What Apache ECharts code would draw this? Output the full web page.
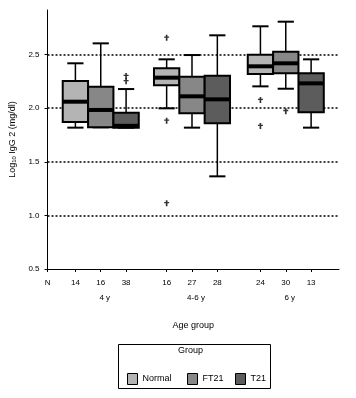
<!DOCTYPE html>
<html>
<head>
<meta charset="utf-8">
<script src="https://cdn.jsdelivr.net/npm/echarts@6/dist/echarts.min.js"></script>
<style>
  html, body { margin: 0; padding: 0; background: #fff; }
  #chart { width: 356px; height: 398px; }
</style>
</head>
<body>
<div id="chart"></div>
<script>
// slots on the x axis (one per box), grouped by age
const boxX = [1.1, 2.1, 3.1, 4.7, 5.7, 6.7, 8.4, 9.4, 10.4];
const counts = [14, 16, 38, 16, 27, 28, 24, 30, 13];
const ageGroups = ['4 y', '4-6 y', '6 y'];
const groupNames = ['Normal', 'FT21', 'T21'];
const yTicks = [0.5, 1.0, 1.5, 2.0, 2.5];
const gridValues = [1.0, 1.5, 2.0, 2.5];

// [min, Q1, median, Q3, max] per age group
const normal = [[1.818, 1.871, 2.06, 2.253, 2.418], [1.998, 2.213, 2.284, 2.371, 2.455], [2.203, 2.318, 2.39, 2.498, 2.763]];
const ft21 = [[1.821, 1.821, 1.983, 2.2, 2.604], [1.818, 1.952, 2.11, 2.293, 2.495], [2.181, 2.325, 2.418, 2.526, 2.806]];
const t21 = [[1.818, 1.818, 1.835, 1.957, 2.178], [1.364, 1.859, 2.082, 2.302, 2.679], [1.818, 1.961, 2.231, 2.325, 2.455]];

// outliers per age group
const normalOut = [[], [2.657, 1.883, 1.113], [2.076, 1.833]];
const ft21Out = [[], [], [1.972]];
const t21Out = [[2.25, 2.30], [], []];

const colors = ['#b4b4b4', '#878787', '#5c5c5c'];
const FONT = 'Liberation Sans';

const chart = echarts.init(document.getElementById('chart'));

const allStats = [normal, ft21, t21];
const allOut = [normalOut, ft21Out, t21Out];

function boxData(k) {
  return allStats[k].map((s, g) => [boxX[g * 3 + k]].concat(s));
}

let outData = [];
allOut.forEach((arr, k) => {
  arr.forEach((vals, g) => {
    vals.forEach(v => outData.push([boxX[g * 3 + k], v]));
  });
});

function renderBox(params, api) {
  const x = api.value(0);
  const lo = api.coord([x, api.value(1)]);
  const q1 = api.coord([x, api.value(2)]);
  const med = api.coord([x, api.value(3)]);
  const q3 = api.coord([x, api.value(4)]);
  const hi = api.coord([x, api.value(5)]);
  const w = api.size([1, 0])[0];
  const cx = lo[0];
  const half = w / 2;
  const cap = w * 0.32;
  const lineStyle = { stroke: '#000', lineWidth: 1.5 };
  const capStyle = { stroke: '#000', lineWidth: 2 };
  return {
    type: 'group',
    children: [
      { type: 'line', shape: { x1: cx, y1: hi[1], x2: cx, y2: q3[1] }, style: lineStyle },
      { type: 'line', shape: { x1: cx, y1: q1[1], x2: cx, y2: lo[1] }, style: lineStyle },
      { type: 'line', shape: { x1: cx - cap, y1: hi[1], x2: cx + cap, y2: hi[1] }, style: capStyle },
      { type: 'line', shape: { x1: cx - cap, y1: lo[1], x2: cx + cap, y2: lo[1] }, style: capStyle },
      {
        type: 'rect',
        shape: { x: cx - half, y: q3[1], width: w, height: q1[1] - q3[1] },
        style: { fill: api.visual('color'), stroke: '#000', lineWidth: 2 }
      },
      {
        type: 'rect',
        shape: { x: cx - half, y: med[1] - 2, width: w, height: 4 },
        style: { fill: '#000' }
      }
    ]
  };
}

const series = groupNames.map((name, k) => ({
  name: name,
  type: 'custom',
  z: 3,
  itemStyle: { color: colors[k] },
  renderItem: renderBox,
  encode: { x: 0, y: [1, 2, 3, 4, 5] },
  data: boxData(k)
}));

series.push({
  name: 'outliers',
  type: 'scatter',
  z: 4,
  symbol: 'path://M1.5,0h1.5v2h1.5v1.5h-1.5v3.5h-1.5v-3.5h-1.5v-1.5h1.5z',
  symbolSize: [5, 6],
  itemStyle: { color: '#000' },
  data: outData,
  markLine: {
    z: 1,
    silent: true,
    symbol: 'none',
    label: { show: false },
    lineStyle: { color: '#000', type: [2, 2], width: 1.5 },
    data: gridValues.map(v => ({ yAxis: v }))
  }
});

function legendFor(name, left) {
  return {
    data: [name],
    left: left,
    top: 368,
    icon: 'rect',
    itemWidth: 10,
    itemHeight: 11,
    itemGap: 5,
    itemStyle: { borderColor: '#000', borderWidth: 1 },
    textStyle: { fontFamily: FONT, fontSize: 9, color: '#000' },
    selectedMode: false
  };
}

const option = {
  animation: false,
  textStyle: { fontFamily: FONT },
  grid: { left: 46, top: 10, right: 17, bottom: 129 },
  xAxis: [
    {
      type: 'value',
      min: 0,
      max: 11.5,
      splitLine: { show: false },
      axisLine: { lineStyle: { color: '#000', width: 1 } },
      axisTick: { customValues: [0].concat(boxX), length: 3, lineStyle: { color: '#000' } },
      axisLabel: {
        customValues: [0].concat(boxX),
        margin: 10,
        fontSize: 8,
        color: '#000',
        formatter: v => {
          const i = boxX.indexOf(v);
          return i < 0 ? 'N' : String(counts[i]);
        }
      },
      name: 'Age group',
      nameLocation: 'middle',
      nameGap: 52,
      nameTextStyle: { fontSize: 9, color: '#000' }
    },
    {
      type: 'value',
      position: 'bottom',
      min: 0,
      max: 11.5,
      splitLine: { show: false },
      axisLine: { show: false },
      axisTick: { show: false },
      axisLabel: {
        customValues: [boxX[1], boxX[4], boxX[7]],
        margin: 25,
        fontSize: 8,
        color: '#000',
        padding: [0, 0, 0, 8],
        formatter: v => ageGroups[[boxX[1], boxX[4], boxX[7]].indexOf(v)]
      }
    }
  ],
  yAxis: {
    type: 'value',
    min: 0.5,
    max: 2.915,
    interval: 0.5,
    splitLine: { show: false },
    axisLine: { show: true, lineStyle: { color: '#000', width: 1 } },
    axisTick: { show: true, customValues: yTicks, length: 3, lineStyle: { color: '#000' } },
    axisLabel: {
      customValues: yTicks,
      margin: 8,
      fontSize: 8,
      color: '#000',
      formatter: v => v.toFixed(1)
    },
    name: '{a|Log}{s|10}{a| IgG 2 (mg/dl)}',
    nameLocation: 'middle',
    nameRotate: 90,
    nameGap: 30,
    nameTextStyle: {
      color: '#000',
      rich: {
        a: { fontSize: 9, color: '#000', fontFamily: FONT },
        s: { fontSize: 6, color: '#000', fontFamily: FONT, verticalAlign: 'bottom', padding: [4, 0, 0, 0] }
      }
    }
  },
  legend: [legendFor('Normal', 122), legendFor('FT21', 182), legendFor('T21', 230)],
  graphic: [
    {
      type: 'rect',
      left: 116,
      top: 342,
      shape: { width: 152, height: 44 },
      style: { fill: 'none', stroke: '#000', lineWidth: 1 }
    },
    {
      type: 'text',
      left: 178,
      top: 346,
      style: { text: 'Group', fontSize: 9, fontFamily: FONT, fill: '#000' }
    }
  ],
  series: series
};

chart.setOption(option);
</script>
</body>
</html>
